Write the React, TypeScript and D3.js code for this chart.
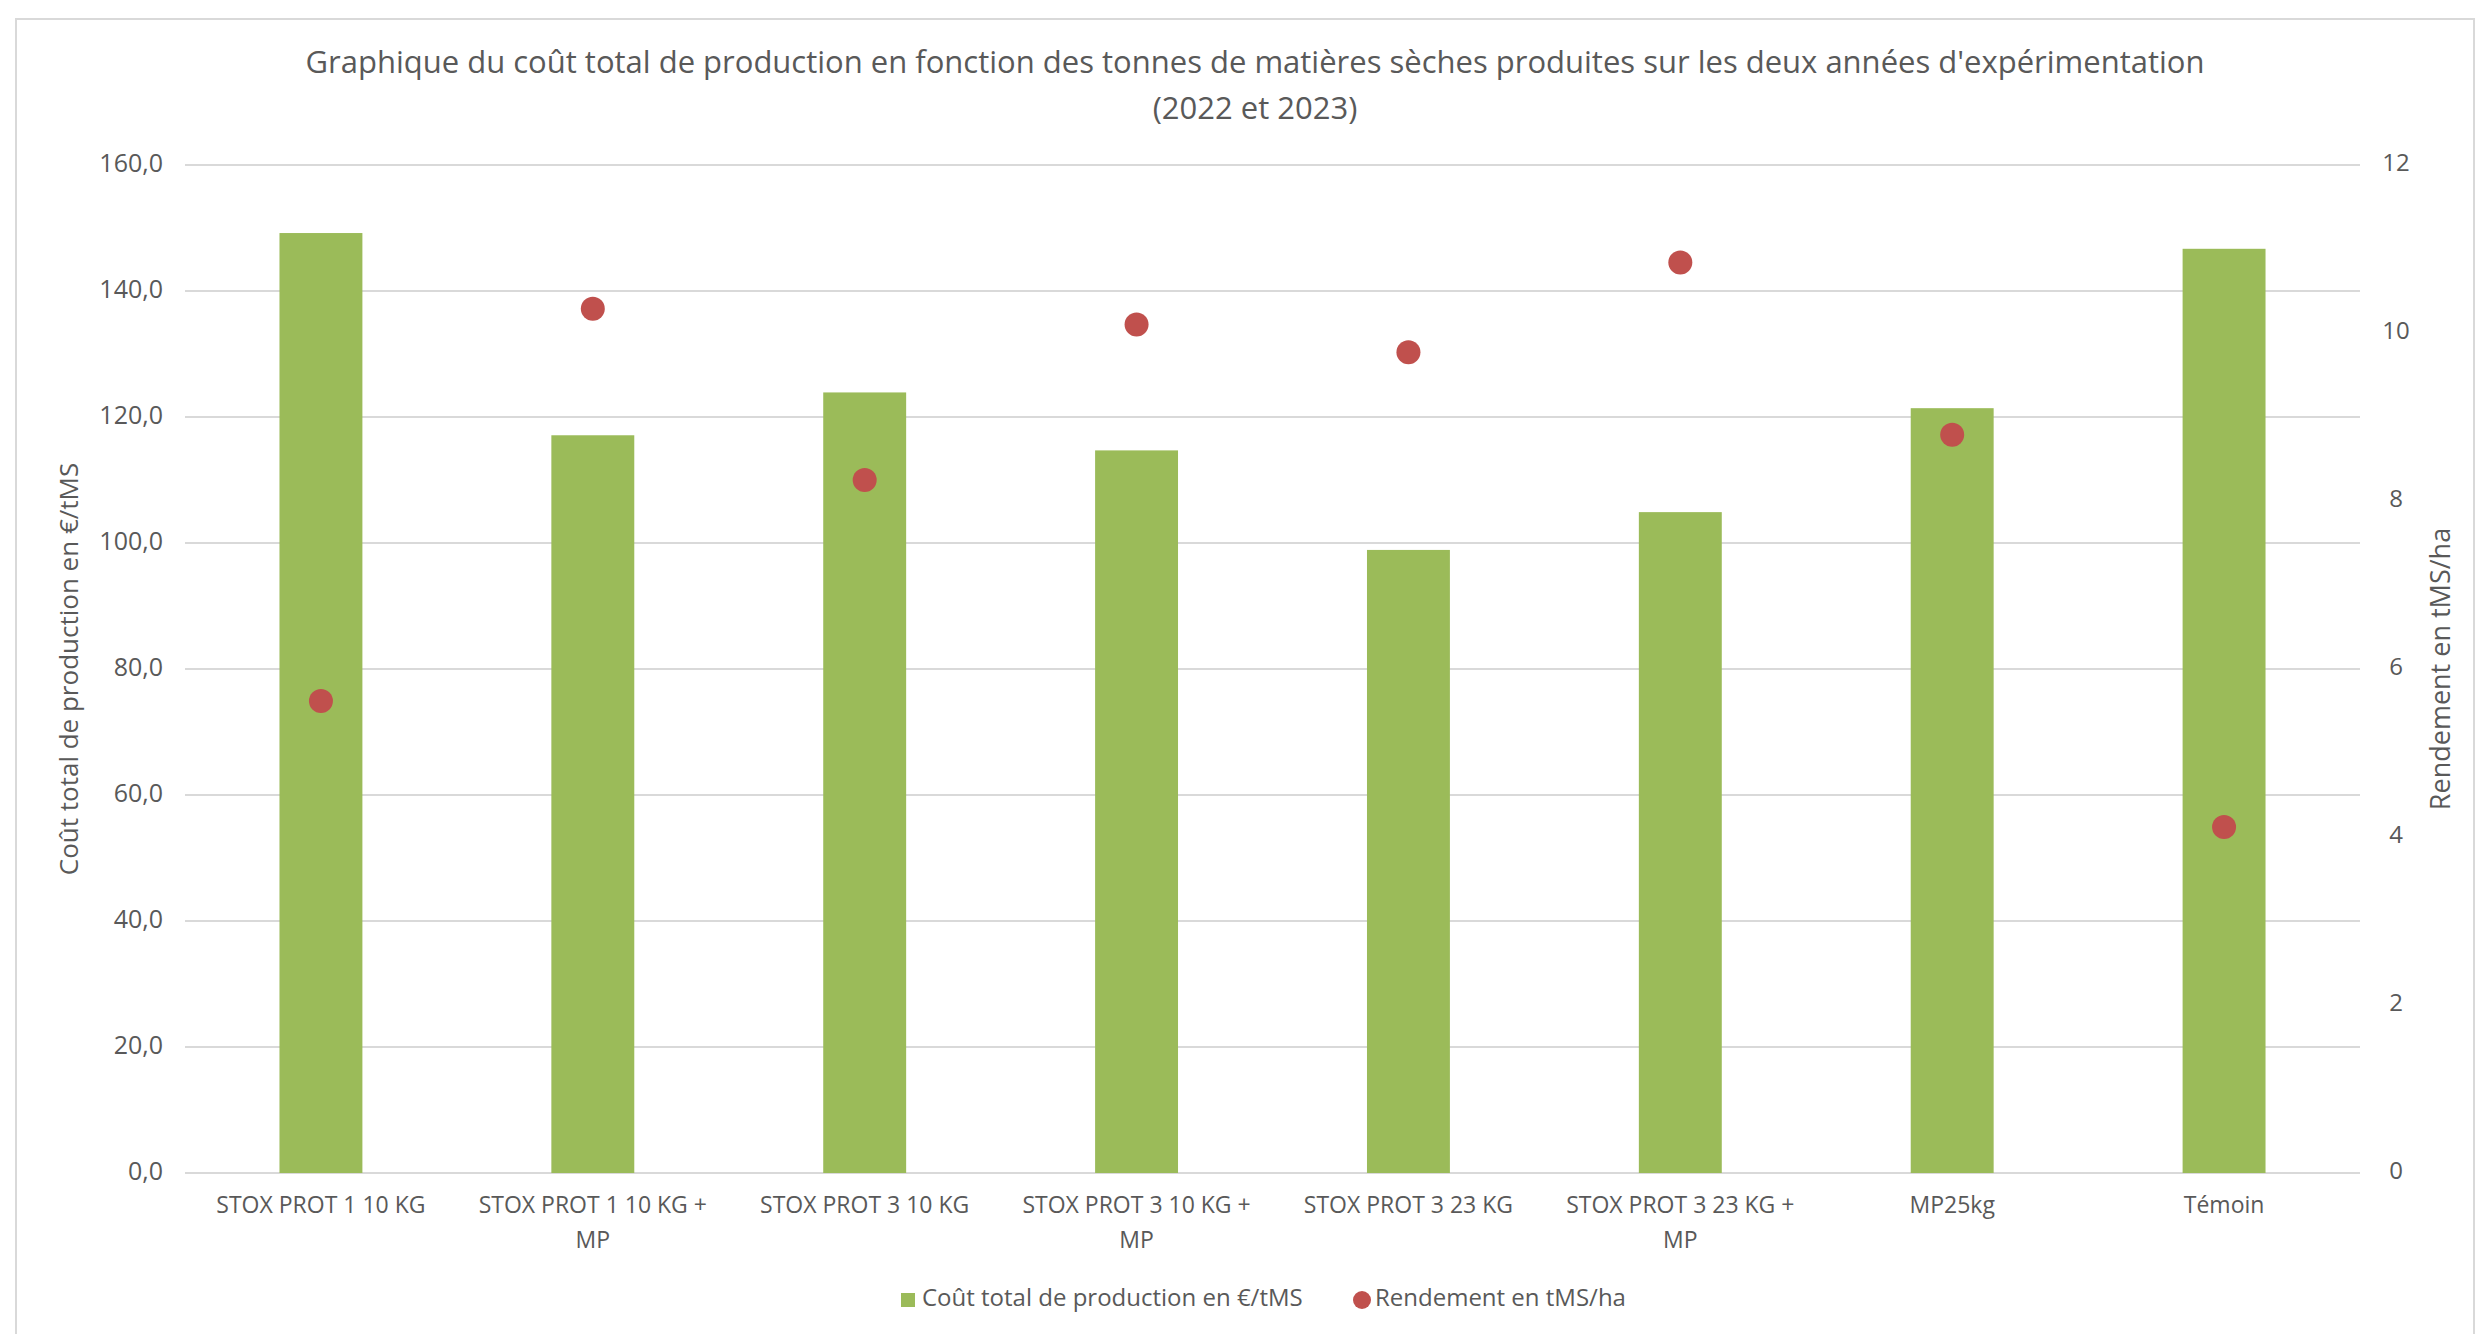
import * as d3 from 'd3';

// valeurs
const categories = [
    'STOX PROT 1 10 KG',
    'STOX PROT 1 10 KG + MP',
    'STOX PROT 3 10 KG',
    'STOX PROT 3 10 KG + MP',
    'STOX PROT 3 23 KG',
    'STOX PROT 3 23 KG + MP',
    'MP25kg',
    'Témoin',
];
const coutTotal = [149.2, 117.1, 123.9, 114.7, 98.9, 104.9, 121.4, 146.7];
const rendement = [5.62, 10.29, 8.25, 10.1, 9.77, 10.84, 8.79, 4.12];
const leftTicks = [0, 20, 40, 60, 80, 100, 120, 140, 160];
const rightTicks = [0, 2, 4, 6, 8, 10, 12];

const titleLines = [
    "Graphique du coût total de production en fonction des tonnes de matières sèches produites sur les deux années d'expérimentation",
    '(2022 et 2023)',
];
const leftTitle = 'Coût total de production en €/tMS';
const rightTitle = 'Rendement en tMS/ha';
const legendLabels = ['Coût total de production en €/tMS', 'Rendement en tMS/ha'];

const width = 2483;
const height = 1334;
const margins = { top: 165, bottom: 161, left: 185, right: 123 };
const font = "'Open Sans', sans-serif";
const textColor = '#595959';
const green = '#9BBB59';
const red = '#C0504D';

export default function App() {
    const xScale = d3
        .scaleBand()
        .domain(categories)
        .range([margins.left, width - margins.right])
        .paddingInner(0.695)
        .paddingOuter(0.3475);

    const yLeft = d3
        .scaleLinear()
        .domain([0, 160])
        .range([height - margins.bottom, margins.top]);

    const yRight = d3
        .scaleLinear()
        .domain([0, 12])
        .range([height - margins.bottom, margins.top]);

    const fmt = (v: number) => d3.format('.1f')(v).replace('.', ',');
    const midY = (margins.top + height - margins.bottom) / 2;

    // découpe des libellés longs
    const wrap = (c: string) => (c.includes(' + ') ? [c.split(' + ')[0] + ' +', c.split(' + ')[1]] : [c]);

    return (
        <div style={{ position: 'absolute', left: 0, top: 0 }}>
            <svg width={width} height={height} style={{ display: 'block', background: '#fff' }} fontFamily={font}>
                <rect x={16} y={19} width={2458} height={1340} fill='#fff' stroke='#d9d9d9' strokeWidth={2} />

                {titleLines.map((t, i) => (
                    <text key={i} x={1255} y={65 + i * 46} textAnchor='middle' dominantBaseline='middle' fontSize={31} fill={textColor}>
                        {t}
                    </text>
                ))}

                {leftTicks.map((t) => (
                    <g key={t}>
                        <line
                            x1={margins.left}
                            x2={width - margins.right}
                            y1={yLeft(t)}
                            y2={yLeft(t)}
                            stroke='#d9d9d9'
                            strokeWidth={2}
                        />
                        <text x={163} y={yLeft(t)} textAnchor='end' dominantBaseline='middle' fontSize={25} fill={textColor}>
                            {fmt(t)}
                        </text>
                    </g>
                ))}

                {rightTicks.map((t) => (
                    <text key={t} x={2396} y={yRight(t)} textAnchor='middle' dominantBaseline='middle' fontSize={24} fill={textColor}>
                        {t}
                    </text>
                ))}

                {coutTotal.map((v, i) => (
                    <rect
                        key={categories[i]}
                        x={xScale(categories[i]) as number}
                        y={yLeft(v)}
                        width={xScale.bandwidth()}
                        height={yLeft(0) - yLeft(v)}
                        fill={green}
                    />
                ))}

                {rendement.map((v, i) => (
                    <circle
                        key={categories[i]}
                        cx={(xScale(categories[i]) as number) + xScale.bandwidth() / 2}
                        cy={yRight(v)}
                        r={12}
                        fill={red}
                    />
                ))}

                {categories.map((c) => (
                    <text
                        key={c}
                        x={(xScale(c) as number) + xScale.bandwidth() / 2}
                        y={1207}
                        textAnchor='middle'
                        dominantBaseline='middle'
                        fontSize={23}
                        fill={textColor}
                    >
                        {wrap(c).map((l, j) => (
                            <tspan key={j} x={(xScale(c) as number) + xScale.bandwidth() / 2} dy={j === 0 ? 0 : 35}>
                                {l}
                            </tspan>
                        ))}
                    </text>
                ))}

                <text
                    transform={`translate(71, ${midY}) rotate(-90)`}
                    textAnchor='middle'
                    dominantBaseline='middle'
                    fontSize={26}
                    fill={textColor}
                >
                    {leftTitle}
                </text>
                <text
                    transform={`translate(2443, ${midY}) rotate(-90)`}
                    textAnchor='middle'
                    dominantBaseline='middle'
                    fontSize={27}
                    fill={textColor}
                >
                    {rightTitle}
                </text>

                {/* légende */}
                <rect x={901} y={1293} width={14} height={14} fill={green} />
                <text x={922} y={1300} dominantBaseline='middle' fontSize={24} fill={textColor}>
                    {legendLabels[0]}
                </text>
                <circle cx={1362} cy={1300} r={9} fill={red} />
                <text x={1375} y={1300} dominantBaseline='middle' fontSize={24} fill={textColor}>
                    {legendLabels[1]}
                </text>
            </svg>
        </div>
    );
}
